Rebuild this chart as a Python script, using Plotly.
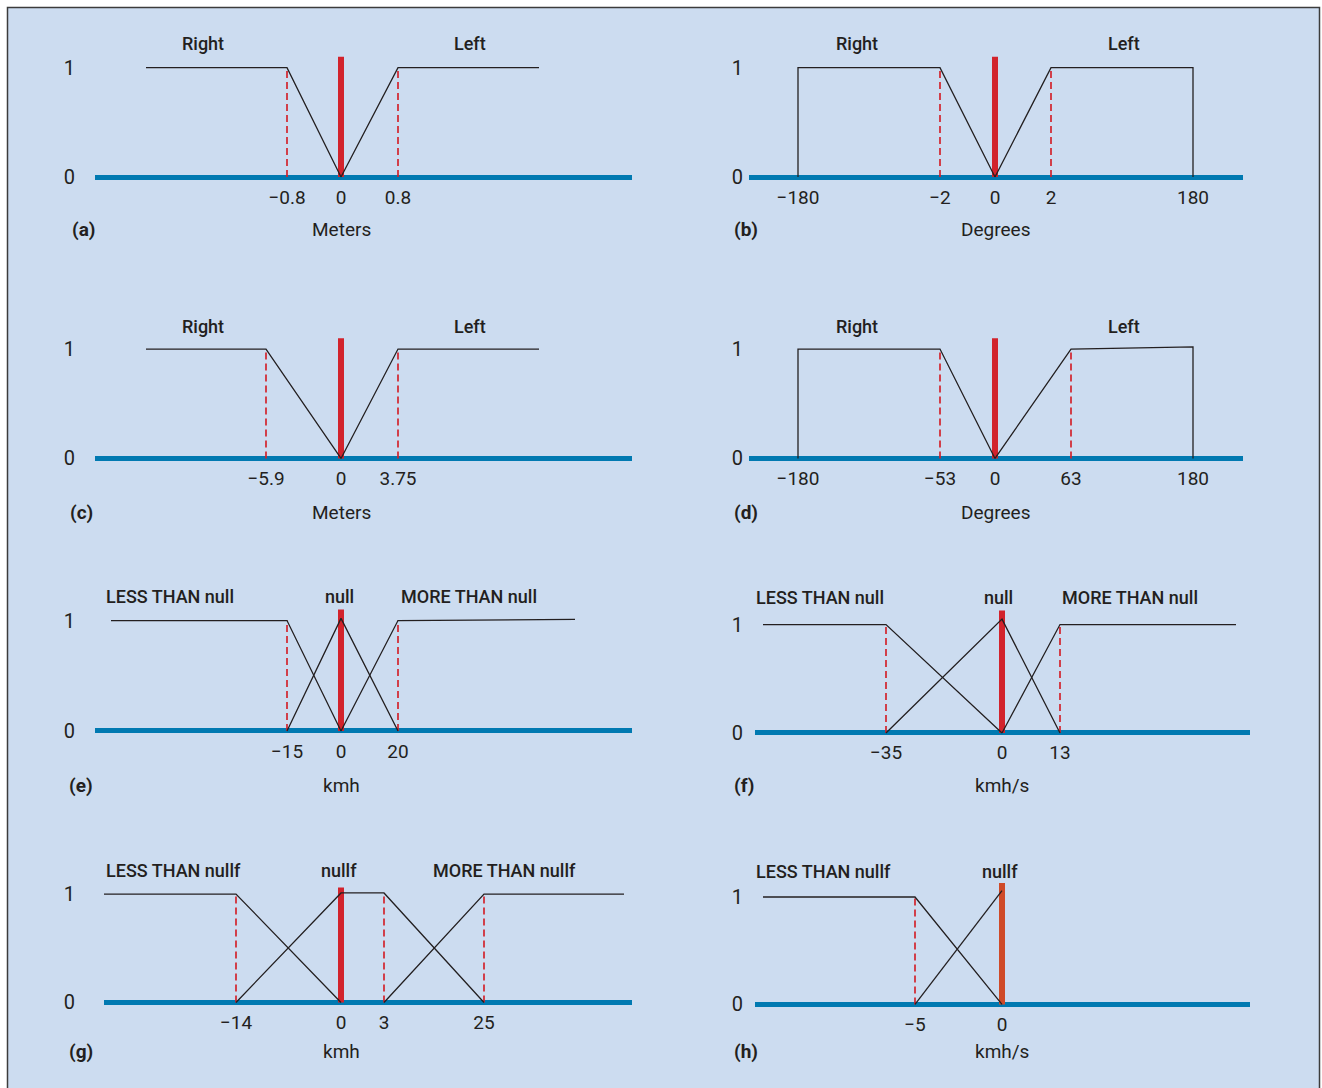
import plotly.graph_objects as go

# ------------------------------------------------------------------ data
# (a) lateral offset
a_ticks = [-0.8, 0, 0.8]
a_ticktext = ["−0.8", "0", "0.8"]
a_names = ["Right", "Left"]
a_set_x = [["min", -0.8, 0], [0, 0.8, "max"]]
a_set_y = [[1, 1, 0], [0, 1, 1]]
a_dashed = [-0.8, 0.8]
a_marker, a_marker_top = 0, 1.1
a_unit = "Meters"

# (b) heading
b_ticks = [-180, -2, 0, 2, 180]
b_ticktext = ["−180", "−2", "0", "2", "180"]
b_names = ["Right", "Left"]
b_set_x = [[-180, -180, -2, 0], [0, 2, 180, 180]]
b_set_y = [[0, 1, 1, 0], [0, 1, 1, 0]]
b_dashed = [-2, 2]
b_marker, b_marker_top = 0, 1.1
b_unit = "Degrees"

# (c) lateral offset
c_ticks = [-5.9, 0, 3.75]
c_ticktext = ["−5.9", "0", "3.75"]
c_names = ["Right", "Left"]
c_set_x = [["min", -5.9, 0], [0, 3.75, "max"]]
c_set_y = [[1, 1, 0], [0, 1, 1]]
c_dashed = [-5.9, 3.75]
c_marker, c_marker_top = 0, 1.1
c_unit = "Meters"

# (d) heading
d_ticks = [-180, -53, 0, 63, 180]
d_ticktext = ["−180", "−53", "0", "63", "180"]
d_names = ["Right", "Left"]
d_set_x = [[-180, -180, -53, 0], [0, 63, 180, 180]]
d_set_y = [[0, 1, 1, 0], [0, 1, 1.02, 0]]
d_dashed = [-53, 63]
d_marker, d_marker_top = 0, 1.1
d_unit = "Degrees"

# (e) speed error
e_ticks = [-15, 0, 20]
e_ticktext = ["−15", "0", "20"]
e_names = ["LESS THAN null", "null", "MORE THAN null"]
e_set_x = [["min", -15, 0], [-15, 0, 20], [0, 20, "max"]]
e_set_y = [[1, 1, 0], [0, 1.02, 0], [0, 1, 1.01]]
e_dashed = [-15, 20]
e_marker, e_marker_top = 0, 1.1
e_unit = "kmh"

# (f) acceleration
f_ticks = [-35, 0, 13]
f_ticktext = ["−35", "0", "13"]
f_names = ["LESS THAN null", "null", "MORE THAN null"]
f_set_x = [["min", -35, 0], [-35, 0, 13], [0, 13, "max"]]
f_set_y = [[1, 1, 0], [0, 1.05, 0], [0, 1, 1]]
f_dashed = [-35, 13]
f_marker, f_marker_top = 0, 1.13
f_unit = "kmh/s"

# (g) speed error (follow)
g_ticks = [-14, 0, 3, 25]
g_ticktext = ["−14", "0", "3", "25"]
g_names = ["LESS THAN nullf", "nullf", "MORE THAN nullf"]
g_set_x = [["min", -14, 0], [-14, 0, 3, 25], [3, 25, "max"]]
g_set_y = [[1, 1, 0], [0, 1.01, 1.01, 0], [0, 1, 1]]
g_dashed = [-14, 3, 25]
g_marker, g_marker_top = 0, 1.06
g_unit = "kmh"

# (h) acceleration (follow)
h_ticks = [-5, 0]
h_ticktext = ["−5", "0"]
h_names = ["LESS THAN nullf", "nullf"]
h_set_x = [["min", -5, 0], [-5, 0]]
h_set_y = [[1, 1, 0], [0, 1.06]]
h_dashed = [-5]
h_marker, h_marker_top = 0, 1.13
h_unit = "kmh/s"

# ------------------------------------------------------------------ layout (schematic, non-linear x positions)
POS = {
    "a": {"min": -195, -0.8: -54, 0: 0, 0.8: 57, "max": 198},
    "b": {-180: -197, -2: -55, 0: 0, 2: 56, 180: 198},
    "c": {"min": -195, -5.9: -75, 0: 0, 3.75: 57, "max": 198},
    "d": {-180: -197, -53: -55, 0: 0, 63: 76, 180: 198},
    "e": {"min": -230, -15: -54, 0: 0, 20: 57, "max": 234},
    "f": {"min": -239, -35: -116, 0: 0, 13: 58, "max": 234},
    "g": {"min": -247, -14: -105, 0: 0, 3: 43, 25: 143, "max": 283},
    "h": {"min": -239, -5: -87, 0: 0},
}
# centre px, axis start px, axis end px, baseline px, unit px, y-label px, letter x px, caption y px
FRAME = {
    "a": (341, 95, 632, 178, 110, 69, 83, 231),
    "b": (995, 749, 1243, 178, 110, 737, 746, 231),
    "c": (341, 95, 632, 461, 110, 69, 81, 515),
    "d": (995, 749, 1243, 461, 110, 737, 746, 515),
    "e": (341, 95, 632, 735, 111, 69, 81, 790),
    "f": (1002, 755, 1250, 737, 109, 737, 744, 790),
    "g": (341, 104, 632, 1008, 109, 69, 81, 1057),
    "h": (1002, 755, 1250, 1010, 108, 737, 746, 1057),
}
LABELPOS = {
    "a": [(-138, 1.22), (129, 1.22)],
    "b": [(-138, 1.22), (129, 1.22)],
    "c": [(-138, 1.21), (129, 1.21)],
    "d": [(-138, 1.21), (129, 1.21)],
    "e": [(-171, 1.22), (-2, 1.22), (128, 1.22)],
    "f": [(-182, 1.25), (-4, 1.25), (128, 1.25)],
    "g": [(-168, 1.22), (-2, 1.22), (163, 1.22)],
    "h": [(-179, 1.24), (-2, 1.24)],
}

PANELS = {
    "a": (a_ticks, a_ticktext, a_names, a_set_x, a_set_y, a_dashed, a_marker, a_marker_top, a_unit),
    "b": (b_ticks, b_ticktext, b_names, b_set_x, b_set_y, b_dashed, b_marker, b_marker_top, b_unit),
    "c": (c_ticks, c_ticktext, c_names, c_set_x, c_set_y, c_dashed, c_marker, c_marker_top, c_unit),
    "d": (d_ticks, d_ticktext, d_names, d_set_x, d_set_y, d_dashed, d_marker, d_marker_top, d_unit),
    "e": (e_ticks, e_ticktext, e_names, e_set_x, e_set_y, e_dashed, e_marker, e_marker_top, e_unit),
    "f": (f_ticks, f_ticktext, f_names, f_set_x, f_set_y, f_dashed, f_marker, f_marker_top, f_unit),
    "g": (g_ticks, g_ticktext, g_names, g_set_x, g_set_y, g_dashed, g_marker, g_marker_top, g_unit),
    "h": (h_ticks, h_ticktext, h_names, h_set_x, h_set_y, h_dashed, h_marker, h_marker_top, h_unit),
}

W, H = 1322, 1088


def px(xp):
    return xp / W


def py(yp):
    return 1 - yp / H


BG = "#ccdcf0"
BLUE = "#0079b1"
RED = "#d2232c"
ORANGE = "#cf4a28"
INK = "#231f20"
FONT = "Roboto, Liberation Sans Narrow, sans-serif"
Y_LO, Y_HI = -0.06, 1.4

fig = go.Figure()
layout = dict(
    width=W, height=H, margin=dict(l=0, r=0, t=0, b=0),
    paper_bgcolor="white", plot_bgcolor="rgba(0,0,0,0)",
    showlegend=False, font=dict(family=FONT, color=INK, size=19),
    shapes=[dict(type="rect", xref="paper", yref="paper", layer="below",
                 x0=px(7.5), x1=px(1319.5), y0=-0.05, y1=py(7.5),
                 fillcolor=BG, line=dict(color="#3c3c3c", width=1.5))],
    annotations=[],
)

for i, key in enumerate("abcdefgh", start=1):
    ticks, ticktext, names, set_x, set_y, dashed, marker, marker_top, unit = PANELS[key]
    cx, x0, x1, base, unit_px, ylab, letx, lety = FRAME[key]
    pos = POS[key]
    xa, ya = f"x{i}", f"y{i}"
    xn, yn = f"xaxis{i}", f"yaxis{i}"

    # red marker (current value)
    fig.add_trace(go.Scatter(x=[pos[marker], pos[marker]], y=[0, marker_top], mode="lines",
                             line=dict(color=ORANGE if key == "h" else RED, width=6),
                             xaxis=xa, yaxis=ya, hoverinfo="skip"))
    # dashed red guides
    for v in dashed:
        fig.add_trace(go.Scatter(x=[pos[v], pos[v]], y=[0, 1], mode="lines",
                                 line=dict(color=RED, width=1.7, dash="7px,4px"),
                                 xaxis=xa, yaxis=ya, hoverinfo="skip"))
    # membership functions
    for nm, sx, sy in zip(names, set_x, set_y):
        fig.add_trace(go.Scatter(x=[pos[v] for v in sx], y=sy, mode="lines", name=nm,
                                 line=dict(color=INK, width=1.3),
                                 xaxis=xa, yaxis=ya))
    # set labels
    for nm, (dx, yy) in zip(names, LABELPOS[key]):
        layout["annotations"].append(dict(text=nm, x=dx, y=yy, xref=xa, yref=ya,
                                          xanchor="center", yanchor="middle",
                                          showarrow=False,
                                          font=dict(size=18, color=INK, weight=500)))
    # unit caption
    layout["annotations"].append(dict(text=unit, x=pos[0], y=py(lety), xref=xa, yref="paper",
                                      xanchor="center", yanchor="middle",
                                      showarrow=False, font=dict(size=19, color=INK)))
    # panel letter
    layout["annotations"].append(dict(text=f"<b>({key})</b>", x=px(letx), y=py(lety),
                                      xref="paper", yref="paper", showarrow=False,
                                      xanchor="center", yanchor="middle",
                                      font=dict(size=19, color=INK)))

    dom_bot = base + (-Y_LO) * unit_px
    dom_top = base - Y_HI * unit_px
    layout[xn] = dict(domain=[px(x0), px(x1)], range=[x0 - cx, x1 - cx], anchor=ya,
                      showgrid=False, zeroline=False, showline=False, ticks="",
                      tickvals=[pos[t] for t in ticks], ticktext=ticktext,
                      tickfont=dict(size=19, color=INK), fixedrange=True)
    layout[yn] = dict(domain=[py(dom_bot), py(dom_top)], range=[Y_LO, Y_HI],
                      anchor="free", position=px(ylab + 6),
                      showgrid=False, showline=False, ticks="",
                      tickvals=[0, 1], ticktext=["0", "1"],
                      tickfont=dict(size=20, color=INK),
                      zeroline=True, zerolinecolor=BLUE, zerolinewidth=5, fixedrange=True)

fig.update_layout(**layout)
fig.write_html(
    "out.html",
    config={"displayModeBar": False},
    post_script="document.body.style.margin='0';"
                "document.documentElement.style.overflow='hidden';",
)
